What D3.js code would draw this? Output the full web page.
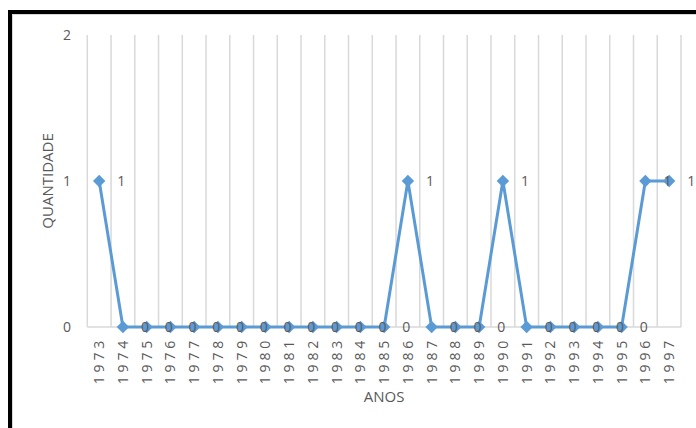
<!DOCTYPE html>
<html>
<head>
<meta charset="utf-8">
<script src="https://cdn.jsdelivr.net/npm/d3@7"></script>
<style>
  html, body { margin: 0; padding: 0; background: #ffffff; }
  svg { display: block; font-family: "Open Sans", "Liberation Sans", sans-serif; }
</style>
</head>
<body>
<svg id="chart" width="696" height="428"></svg>
<script>
// Yearly counts
const years = ["1973","1974","1975","1976","1977","1978","1979","1980","1981","1982",
  "1983","1984","1985","1986","1987","1988","1989","1990","1991","1992",
  "1993","1994","1995","1996","1997"];
const quantidade = [1,0,0,0,0,0,0,0,0,0,0,0,0,1,0,0,0,1,0,0,0,0,0,1,1];
const yTicks = [0, 1, 2];
const xTitle = "ANOS";
const yTitle = "QUANTIDADE";

const svg = d3.select("#chart");
const W = 696, H = 428;
const plot = { left: 87.3, right: 681, top: 35, bottom: 327 };
const lineColor = "#5B9BD5";
const gridColor = "#d9d9d9";
const textColor = "#595959";

// frame
svg.append("rect").attr("x", 12.5).attr("y", 14.5)
  .attr("width", W + 20).attr("height", H + 20)
  .attr("fill", "none").attr("stroke", gridColor).attr("stroke-width", 1);
svg.append("rect").attr("x", 10).attr("y", 12)
  .attr("width", W + 20).attr("height", H + 20)
  .attr("fill", "none").attr("stroke", "#000").attr("stroke-width", 4);

const x = d3.scaleBand().domain(years).range([plot.left, plot.right]).padding(0);
const y = d3.scaleLinear().domain([0, 2]).range([plot.bottom, plot.top]);

// vertical gridlines at category boundaries
const bounds = years.map(d => x(d)).concat([x(years[years.length - 1]) + x.bandwidth()]);
svg.append("g").selectAll("line").data(bounds).join("line")
  .attr("x1", d => d).attr("x2", d => d)
  .attr("y1", y(2)).attr("y2", y(0))
  .attr("stroke", gridColor).attr("stroke-width", 1.5);

// category axis line
svg.append("line")
  .attr("x1", plot.left).attr("x2", plot.right)
  .attr("y1", y(0)).attr("y2", y(0))
  .attr("stroke", gridColor).attr("stroke-width", 1.5);

// value axis labels
svg.append("g").selectAll("text").data(yTicks).join("text")
  .attr("x", 71).attr("y", d => y(d))
  .attr("dy", "0.36em")
  .attr("text-anchor", "end")
  .attr("font-size", 14).attr("fill", textColor)
  .text(d => d);

// category labels, rotated
svg.append("g").selectAll("text").data(years).join("text")
  .attr("transform", d => `translate(${x(d) + x.bandwidth() / 2},${337}) rotate(-90)`)
  .attr("dy", "0.36em")
  .attr("text-anchor", "end")
  .attr("font-size", 14)
  .attr("letter-spacing", 3.8)
  .attr("fill", textColor)
  .text(d => d);

// axis titles
svg.append("text")
  .attr("x", (plot.left + plot.right) / 2).attr("y", 402)
  .attr("text-anchor", "middle").attr("font-size", 15).attr("fill", textColor)
  .text(xTitle);
svg.append("text")
  .attr("transform", `translate(48,${(plot.top + plot.bottom) / 2}) rotate(-90)`)
  .attr("dy", "0.36em")
  .attr("text-anchor", "middle").attr("font-size", 15).attr("fill", textColor)
  .text(yTitle);

const pts = years.map((d, i) => ({ year: d, value: quantidade[i] }));
const cx = d => x(d.year) + x.bandwidth() / 2;

// series line
svg.append("path").datum(pts)
  .attr("fill", "none").attr("stroke", lineColor).attr("stroke-width", 3)
  .attr("stroke-linejoin", "round")
  .attr("d", d3.line().x(cx).y(d => y(d.value)));

// diamond markers
const r = 6.2;
svg.append("g").selectAll("path").data(pts).join("path")
  .attr("transform", d => `translate(${cx(d)},${y(d.value)})`)
  .attr("d", `M0,${-r}L${r},0L0,${r}L${-r},0Z`)
  .attr("fill", lineColor);

// value labels to the right of each point
svg.append("g").selectAll("text").data(pts).join("text")
  .attr("x", d => cx(d) + 18).attr("y", d => y(d.value))
  .attr("dy", "0.36em")
  .attr("text-anchor", "start")
  .attr("font-size", 14).attr("fill", textColor)
  .text(d => d.value);
</script>
</body>
</html>
